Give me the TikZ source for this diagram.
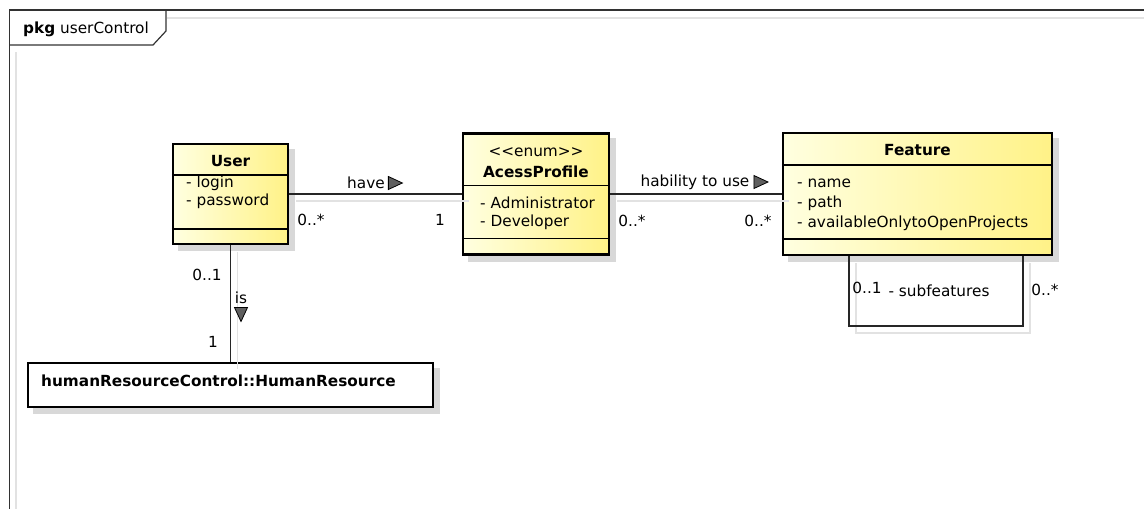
\documentclass[tikz,border=0pt]{standalone}
\usepackage{fontspec}
\setmainfont{DejaVu Sans}
\usetikzlibrary{positioning, shapes.geometric, backgrounds, calc}
\definecolor{umlpale}{RGB}{255,255,224}
\definecolor{umlyellow}{RGB}{255,242,135}
\definecolor{shadowgray}{RGB}{216,216,216}
\definecolor{lineshadow}{RGB}{226,226,226}
\definecolor{framecol}{RGB}{50,50,50}
\definecolor{markgray}{RGB}{95,95,95}
\tikzset{
  cls/.style     = {draw=black, line width=2.2pt, left color=umlpale, right color=umlyellow,
                    inner sep=0pt},
  wcls/.style    = {draw=black, line width=2.2pt, fill=white, inner sep=0pt},
  sep/.style     = {black, line width=1.3pt},
  title/.style   = {font=\fontsize{15.3}{18}\selectfont\bfseries, inner sep=0pt},
  attr/.style    = {font=\fontsize{15.3}{18}\selectfont, anchor=west, inner sep=0pt},
  mult/.style    = {font=\fontsize{15.3}{18}\selectfont, inner sep=0pt},
  assoc/.style   = {draw=black!85, line width=1.3pt,
                    preaction={draw=lineshadow, line width=1.3pt,
                               transform canvas={shift={(7pt,-7pt)}}}},
  dirmark/.style = {isosceles triangle, isosceles triangle stretches, draw=black,
                    line width=0.8pt, fill=markgray,
                    minimum width=13pt, minimum height=14pt, inner sep=0pt},
}

\begin{document}
\begin{tikzpicture}[x=1pt, y=-1pt]
  \useasboundingbox (0,0) rectangle (1144,509);
  % package frame
  \draw[lineshadow, line width=1.2pt] (16,509) -- (16,52);
  \draw[lineshadow, line width=1.2pt] (167,18) -- (1144,18);
  \draw[framecol, line width=1.4pt] (9.5,509) -- (9.5,10) -- (1144,10);
  \draw[framecol, line width=1.2pt] (9.5,45) -- (153,45) -- (166,31) -- (166,10);
  \node[attr] (pkg) at (23,29) {\textbf{pkg} userControl};

  % classes
  \node[cls, minimum width=115pt, minimum height=100pt] (user) at (230.5,194) {};
  \node[cls, minimum width=146pt, minimum height=121pt] (profile) at (536,194) {};
  \node[cls, minimum width=269pt, minimum height=122pt] (feature) at (917.5,194) {};
  \node[wcls, minimum width=405pt, minimum height=44pt] (hr) at (230.5,385) {};

  \begin{scope}[on background layer]
    \foreach \n in {user, profile, feature, hr} {
      \fill[shadowgray] ($(\n.north west)+(6,6)$) rectangle ($(\n.south east)+(6,6)$);
    }
  \end{scope}

  % compartments
  \foreach \n/\a/\b in {user/32/86, profile/53/106, feature/33/107} {
    \draw[sep] ($(\n.north west)+(0,\a)$) -- ($(\n.north east)+(0,\a)$);
    \draw[sep] ($(\n.north west)+(0,\b)$) -- ($(\n.north east)+(0,\b)$);
  }

  % texts
  \node[title] (userName) at (230.5,161) {User};
  \node[attr] (login) at (186,183) {- login};
  \node[attr] (pwd) at (186,201) {- password};

  \node[mult] (stereo) at (536,152) {<{}<enum>{}>};
  \node[title] (profileName) at (536,172) {AcessProfile};
  \node[attr] (admin) at (480,203) {- Administrator};
  \node[attr] (dev) at (480,222) {- Developer};

  \node[title] (featureName) at (917.5,150) {Feature};
  \node[attr] (fname) at (797,183) {- name};
  \node[attr] (fpath) at (797,203) {- path};
  \node[attr] (favail) at (797,223) {- availableOnlytoOpenProjects};

  \node[title, anchor=west] (hrName) at (41,381) {humanResourceControl::HumanResource};

  % associations
  \draw[assoc] (user.east) -- (profile.west);
  \node[mult] (have) at (366,183) {have};
  \node[dirmark, right=3pt of have] (haveDir) {};
  \node[mult] (m1) at (311,220) {0..*};
  \node[mult] (m2) at (440,220) {1};

  \draw[assoc] (profile.east) -- (feature.west);
  \node[mult] (use) at (695,182) {hability to use};
  \node[dirmark, right=4pt of use] (useDir) {};
  \node[mult] (m3) at (632,221) {0..*};
  \node[mult] (m4) at (758,221) {0..*};

  \draw[assoc] (user.south) -- (hr.north);
  \node[mult] (m5) at (207,275) {0..1};
  \node[mult] (is) at (241,298) {is};
  \node[dirmark, shape border rotate=-90, below=3pt of is] (isDir) {};
  \node[mult] (m6) at (213,342) {1};

  \coordinate (loopA) at ($(feature.south west)+(67,0)$);
  \coordinate (loopB) at ($(feature.south east)+(-30,0)$);
  \draw[assoc] (loopA) -- ++(0,70) -| (loopB);
  \node[mult] (m7) at (867,288) {0..1};
  \node[mult] (sub) at (939,291) {- subfeatures};
  \node[mult] (m8) at (1045,290) {0..*};
\end{tikzpicture}
\end{document}
